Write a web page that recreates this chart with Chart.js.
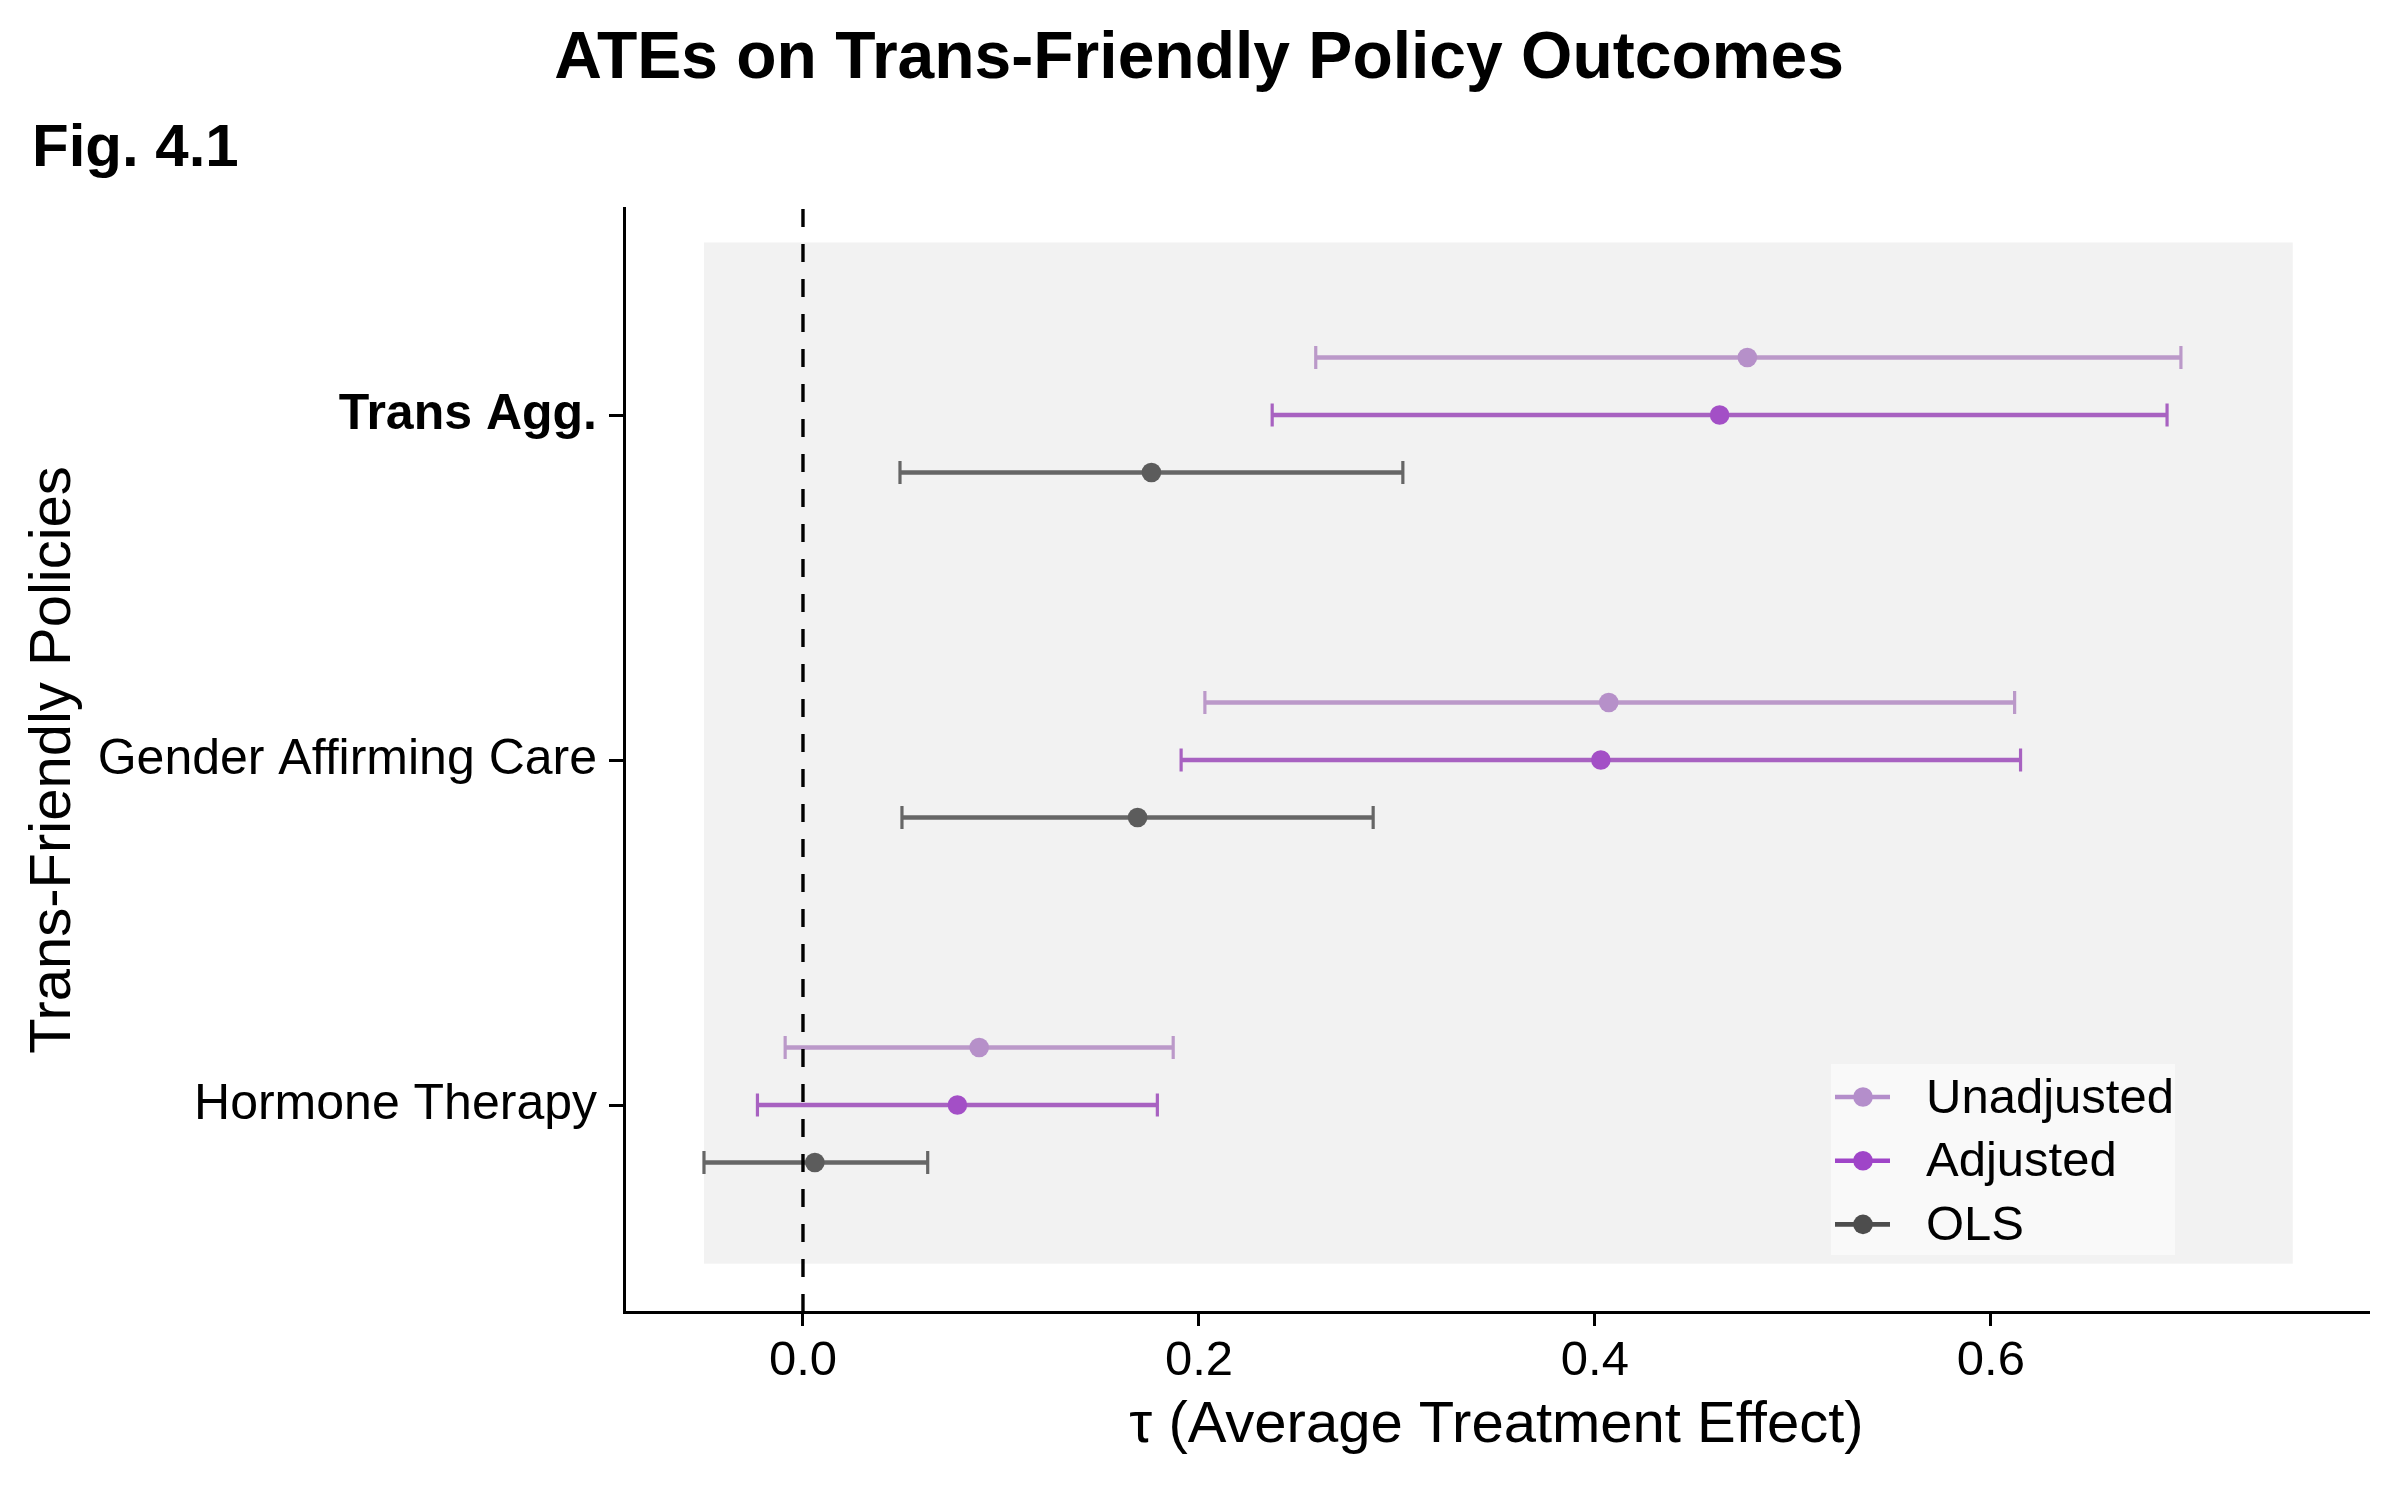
<!DOCTYPE html>
<html>
<head>
<meta charset="utf-8">
<title>ATEs on Trans-Friendly Policy Outcomes</title>
<script src="https://cdn.jsdelivr.net/npm/chart.js@4.4.0/dist/chart.umd.min.js"></script>
<style>
  html, body { margin: 0; padding: 0; background: #ffffff; }
  canvas { display: block; }
</style>
</head>
<body>
<canvas id="ateChart" width="2400" height="1499"></canvas>
<script>
const FONT = "'Liberation Sans', Arial, Helvetica, sans-serif";

// categories bottom to top (y = 1, 2, 3)
const categories = ["Hormone Therapy", "Gender Affirming Care", "Trans Agg."];
const categoryY = [1, 2, 3];

const seriesNames = ["Unadjusted", "Adjusted", "OLS"];
const seriesOffsets = [1 / 6, 0, -1 / 6];

const unadjEst = [0.089, 0.407, 0.477];
const unadjLo = [-0.009, 0.203, 0.259];
const unadjHi = [0.187, 0.612, 0.696];

const adjEst = [0.078, 0.403, 0.463];
const adjLo = [-0.023, 0.191, 0.237];
const adjHi = [0.179, 0.615, 0.689];

const olsEst = [0.006, 0.169, 0.176];
const olsLo = [-0.050, 0.050, 0.049];
const olsHi = [0.063, 0.288, 0.303];

const xTicks = [0.0, 0.2, 0.4, 0.6];
const xRange = [-0.0904, 0.791];
const yRange = [0.4, 3.6];
const bgXRange = [-0.05, 0.7525];
const bgYRange = [0.54, 3.5];
const refLineX = 0;

const pointColors = ["#b690c9", "#a34fc6", "#5c5c5c"];
const lineColors = ["#bb99c9", "#a862c1", "#666666"];
const legendColors = ["#b48ecb", "#9f45c8", "#4d4d4d"];

const estimates = [unadjEst, adjEst, olsEst];
const lows = [unadjLo, adjLo, olsLo];
const highs = [unadjHi, adjHi, olsHi];

function buildDatasets() {
  const datasets = [];

  datasets.push({
    type: "line",
    label: "zero",
    data: [{ x: refLineX, y: yRange[0] }, { x: refLineX, y: yRange[1] }],
    borderColor: "#000000",
    borderWidth: 3.4,
    borderDash: [18, 17],
    pointRadius: 0,
    order: 0
  });

  seriesNames.forEach((name, s) => {
    categories.forEach((cat, i) => {
      const y = categoryY[i] + seriesOffsets[s];
      datasets.push({
        type: "line",
        label: name + " CI " + cat,
        data: [{ x: lows[s][i], y }, { x: highs[s][i], y }],
        borderColor: lineColors[s],
        borderWidth: 4.6,
        pointStyle: "line",
        rotation: 90,
        pointRadius: 11.5,
        pointBorderWidth: 3.2,
        pointBorderColor: lineColors[s],
        order: 2
      });
    });
    datasets.push({
      type: "scatter",
      label: name,
      data: categories.map((cat, i) => ({ x: estimates[s][i], y: categoryY[i] + seriesOffsets[s] })),
      backgroundColor: pointColors[s],
      borderWidth: 0,
      pointRadius: 9.8,
      order: 1
    });
  });

  return datasets;
}

const backgroundPanel = {
  id: "backgroundPanel",
  beforeDatasetsDraw(chart) {
    const { ctx, scales } = chart;
    const x0 = scales.x.getPixelForValue(bgXRange[0]);
    const x1 = scales.x.getPixelForValue(bgXRange[1]);
    const y0 = scales.y.getPixelForValue(bgYRange[1]);
    const y1 = scales.y.getPixelForValue(bgYRange[0]);
    ctx.save();
    ctx.fillStyle = "#f2f2f2";
    ctx.fillRect(x0, y0, x1 - x0, y1 - y0);
    ctx.restore();
  }
};

const headings = {
  id: "headings",
  afterDraw(chart) {
    const { ctx, width } = chart;
    ctx.save();
    ctx.fillStyle = "#000000";
    ctx.textBaseline = "alphabetic";
    ctx.font = "bold 66px " + FONT;
    ctx.textAlign = "center";
    ctx.fillText("ATEs on Trans-Friendly Policy Outcomes", width / 2 - 1, 78);
    ctx.font = "bold 60px " + FONT;
    ctx.textAlign = "left";
    ctx.fillText("Fig. 4.1", 32, 166);
    ctx.restore();
  }
};

const insideLegend = {
  id: "insideLegend",
  afterDatasetsDraw(chart) {
    const { ctx, chartArea } = chart;
    const boxW = 344;
    const boxH = 191;
    const left = chartArea.right - 194 - boxW;
    const top = chartArea.bottom - 57 - boxH;
    ctx.save();
    ctx.fillStyle = "#f9f9f9";
    ctx.fillRect(left, top, boxW, boxH);
    ctx.font = "49px " + FONT;
    ctx.textBaseline = "middle";
    ctx.textAlign = "left";
    seriesNames.forEach((name, s) => {
      const rowY = top + 33 + s * 63.7;
      ctx.strokeStyle = legendColors[s];
      ctx.lineWidth = 4.6;
      ctx.beginPath();
      ctx.moveTo(left + 4, rowY);
      ctx.lineTo(left + 59, rowY);
      ctx.stroke();
      ctx.fillStyle = legendColors[s];
      ctx.beginPath();
      ctx.arc(left + 32, rowY, 9.8, 0, Math.PI * 2);
      ctx.fill();
      ctx.fillStyle = "#000000";
      ctx.fillText(name, left + 95, rowY + 2);
    });
    ctx.restore();
  }
};

new Chart(document.getElementById("ateChart"), {
  type: "scatter",
  data: { datasets: buildDatasets() },
  options: {
    responsive: false,
    animation: false,
    devicePixelRatio: 1,
    layout: { padding: { top: 208, right: 31, bottom: 0, left: 0 } },
    plugins: {
      legend: { display: false },
      tooltip: { enabled: false }
    },
    scales: {
      x: {
        type: "linear",
        min: xRange[0],
        max: xRange[1],
        afterBuildTicks: (scale) => {
          scale.ticks = xTicks.map((v) => ({ value: v }));
        },
        afterFit: (scale) => {
          scale.height = 187;
        },
        ticks: {
          color: "#000000",
          font: { family: FONT, size: 49 },
          padding: 6,
          maxRotation: 0,
          callback: (value) => Number(value).toFixed(1)
        },
        grid: {
          drawOnChartArea: false,
          drawTicks: true,
          tickLength: 14,
          tickWidth: 3,
          tickColor: "#000000"
        },
        border: { display: true, color: "#000000", width: 3 },
        title: {
          display: true,
          text: "τ (Average Treatment Effect)",
          color: "#000000",
          font: { family: FONT, size: 58 },
          padding: { top: 0, bottom: 38 }
        }
      },
      y: {
        type: "linear",
        min: yRange[0],
        max: yRange[1],
        afterBuildTicks: (scale) => {
          scale.ticks = categoryY.map((v) => ({ value: v }));
        },
        afterFit: (scale) => {
          scale.width = 624;
        },
        ticks: {
          color: "#000000",
          padding: 12,
          font: (ctx) => ({
            family: FONT,
            size: 50,
            weight: ctx.tick && ctx.tick.value === 3 ? "bold" : "normal"
          }),
          callback: (value) => {
            const idx = categoryY.indexOf(value);
            return idx >= 0 ? categories[idx] : "";
          }
        },
        grid: {
          drawOnChartArea: false,
          drawTicks: true,
          tickLength: 15,
          tickWidth: 3,
          tickColor: "#000000"
        },
        border: { display: true, color: "#000000", width: 3 },
        title: {
          display: true,
          text: "Trans-Friendly Policies",
          color: "#000000",
          font: { family: FONT, size: 58 },
          padding: { top: 19, bottom: 0 }
        }
      }
    }
  },
  plugins: [backgroundPanel, insideLegend, headings]
});
</script>
</body>
</html>
